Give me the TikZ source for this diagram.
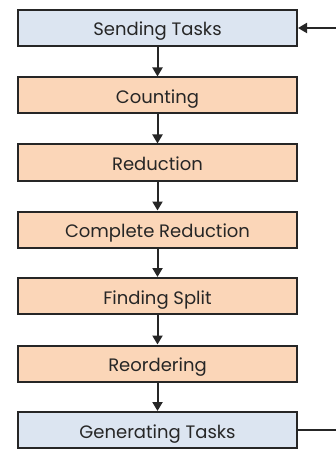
\documentclass[tikz,border=0pt]{standalone}
\usepackage{fontspec}
\setmainfont{Poppins}
\usetikzlibrary{arrows.meta}
\definecolor{bluefill}{HTML}{DCE5F1}
\definecolor{orangefill}{HTML}{FBD6B8}
\definecolor{linecol}{HTML}{262626}
\tikzset{
  stepbox/.style={draw=linecol, line width=2pt, minimum width=279pt, minimum height=36pt, inner sep=0pt, text height=18pt, text depth=2pt, font=\fontsize{18pt}{20pt}\selectfont, text=linecol},
  bluebox/.style={stepbox, fill=bluefill},
  orangebox/.style={stepbox, fill=orangefill},
  flow/.style={draw=linecol, line width=2pt, -{Triangle[length=9pt,width=10pt]}}
}
\begin{document}
\begin{tikzpicture}[x=1pt,y=-1pt]
\useasboundingbox (0,0) rectangle (336,449);
\clip (0,0) rectangle (336,449);
\node[bluebox] (send) at (157.5,28) {Sending Tasks};
\node[orangebox] (count) at (157.5,95.5) {Counting};
\node[orangebox] (red) at (157.5,162.5) {Reduction};
\node[orangebox] (comp) at (157.5,229.5) {Complete Reduction};
\node[orangebox] (split) at (157.5,296) {Finding Split};
\node[orangebox] (reord) at (157.5,363.5) {Reordering};
\node[bluebox] (gen) at (157.5,430) {Generating Tasks};
\coordinate (r1) at (345,430);
\coordinate (r2) at (345,28);
\draw[flow] (send) -- (count);
\draw[flow] (count) -- (red);
\draw[flow] (red) -- (comp);
\draw[flow] (comp) -- (split);
\draw[flow] (split) -- (reord);
\draw[flow] (reord) -- (gen);
\draw[flow] (gen.east) -- (r1) -- (r2) -- (send.east);
\end{tikzpicture}
\end{document}
